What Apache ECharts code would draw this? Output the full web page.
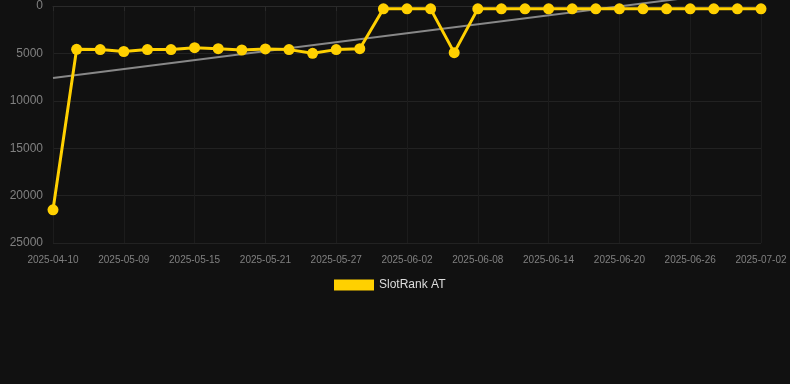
<!DOCTYPE html>
<html><head><meta charset="utf-8">
<script src="https://cdn.jsdelivr.net/npm/echarts@6/dist/echarts.min.js"></script>
<style>html,body{margin:0;padding:0;background:#111111;}#c{width:790px;height:384px;}</style>
</head><body><div id="c"></div>
<script>
const categories = ['2025-04-10','2025-05-05','2025-05-07','2025-05-09','2025-05-11','2025-05-13','2025-05-15','2025-05-17','2025-05-19','2025-05-21','2025-05-23','2025-05-25','2025-05-27','2025-05-29','2025-05-31','2025-06-02','2025-06-04','2025-06-06','2025-06-08','2025-06-10','2025-06-12','2025-06-14','2025-06-16','2025-06-18','2025-06-20','2025-06-22','2025-06-24','2025-06-26','2025-06-28','2025-06-30','2025-07-02'];
const rankValues = [21500,4570,4600,4800,4600,4600,4400,4500,4640,4530,4600,4990,4600,4500,300,300,300,4920,300,300,300,300,300,300,300,300,300,300,300,300,300];
const trendPoints = [[0,7600],[30,-1850]];
const yTicks = [0,5000,10000,15000,20000,25000];

const chart = echarts.init(document.getElementById('c'));
chart.setOption({
  backgroundColor:'#111111',
  animation:false,
  grid:{left:53,right:29,top:6,bottom:141,containLabel:false},
  legend:{
    data:[{name:'SlotRank AT'}],
    top:274,left:329,
    icon:'rect',itemWidth:40,itemHeight:11,itemGap:6,
    textStyle:{color:'#dddddd',fontSize:12,fontFamily:'Arial, Liberation Sans, sans-serif'}
  },
  xAxis:{
    type:'category',data:categories,boundaryGap:false,
    axisLine:{show:true,lineStyle:{color:'#2a2a2a'}},
    axisTick:{show:true,interval:2,lineStyle:{color:'#2a2a2a'}},
    axisLabel:{interval:2,color:'#808080',fontSize:10,margin:12,fontFamily:'Arial, Liberation Sans, sans-serif'},
    splitLine:{show:true,interval:2,lineStyle:{color:'#1c1c1c'}}
  },
  yAxis:{
    type:'value',inverse:true,min:yTicks[0],max:yTicks[yTicks.length-1],interval:5000,
    axisLine:{show:false},axisTick:{show:false},
    axisLabel:{color:'#808080',fontSize:12,margin:10,formatter:v=>String(v),fontFamily:'Arial, Liberation Sans, sans-serif'},
    splitLine:{show:true,lineStyle:{color:'#222222'}}
  },
  series:[
    {
      name:'SlotRank AT',type:'line',data:rankValues,
      symbol:'circle',symbolSize:11,
      lineStyle:{color:'#FFD000',width:3},
      itemStyle:{color:'#FFD000'},
      z:3
    },
    {
      name:'trend',type:'line',data:trendPoints,
      symbol:'none',clip:false,silent:true,
      lineStyle:{color:'#888888',width:2},
      z:2
    }
  ]
});
</script></body></html>
